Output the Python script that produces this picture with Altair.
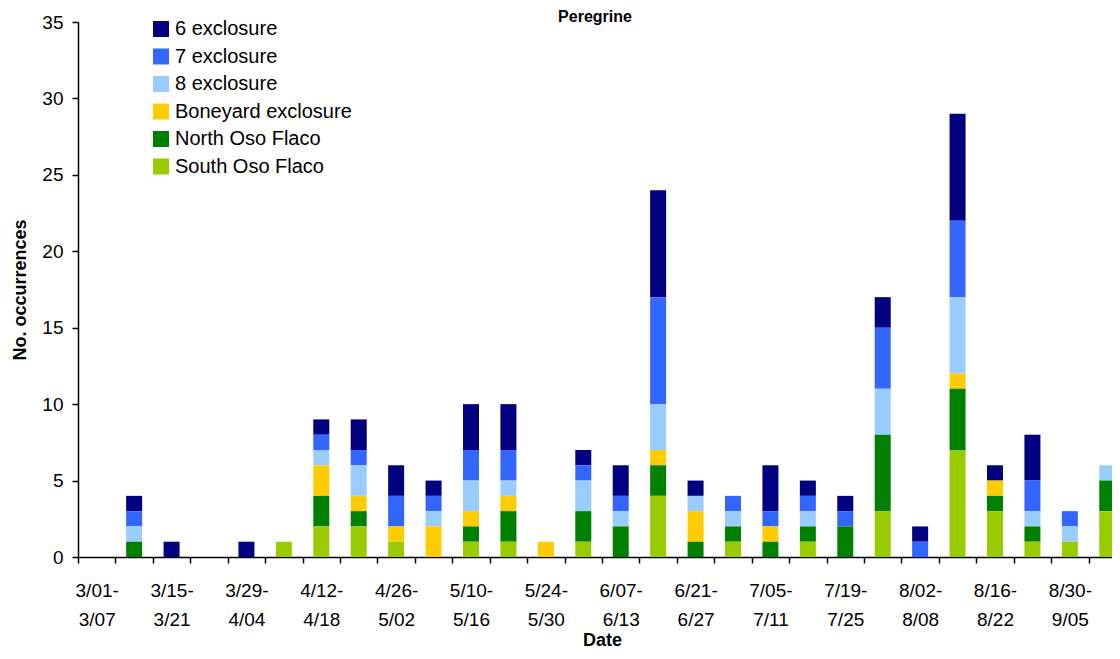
import altair as alt
import pandas as pd

weeks = ["3/01-3/07", "3/08-3/14", "3/15-3/21", "3/22-3/28", "3/29-4/04", "4/05-4/11",
         "4/12-4/18", "4/19-4/25", "4/26-5/02", "5/03-5/09", "5/10-5/16", "5/17-5/23",
         "5/24-5/30", "5/31-6/06", "6/07-6/13", "6/14-6/20", "6/21-6/27", "6/28-7/04",
         "7/05-7/11", "7/12-7/18", "7/19-7/25", "7/26-8/01", "8/02-8/08", "8/09-8/15",
         "8/16-8/22", "8/23-8/29", "8/30-9/05", "9/06-9/12"]
shown_labels = weeks[0:27:2]

six_excl = [0, 1, 1, 0, 1, 0, 1, 2, 2, 1, 3, 3, 0, 1, 2, 7, 1, 0, 3, 1, 1, 2, 1, 7, 1, 3, 0, 0]
seven_excl = [0, 1, 0, 0, 0, 0, 1, 1, 2, 1, 2, 2, 0, 1, 1, 7, 0, 1, 1, 1, 1, 4, 1, 5, 0, 2, 1, 0]
eight_excl = [0, 1, 0, 0, 0, 0, 1, 2, 0, 1, 2, 1, 0, 2, 1, 3, 1, 1, 0, 1, 0, 3, 0, 5, 0, 1, 1, 1]
boneyard = [0, 0, 0, 0, 0, 0, 2, 1, 1, 2, 1, 1, 1, 0, 0, 1, 2, 0, 1, 0, 0, 0, 0, 1, 1, 0, 0, 0]
north_oso = [0, 1, 0, 0, 0, 0, 2, 1, 0, 0, 1, 2, 0, 2, 2, 2, 1, 1, 1, 1, 2, 5, 0, 4, 1, 1, 0, 2]
south_oso = [0, 0, 0, 0, 0, 1, 2, 2, 1, 0, 1, 1, 0, 1, 0, 4, 0, 1, 0, 1, 0, 3, 0, 7, 3, 1, 1, 3]

series_names = ["6 exclosure", "7 exclosure", "8 exclosure", "Boneyard exclosure",
                "North Oso Flaco", "South Oso Flaco"]
series_values = [six_excl, seven_excl, eight_excl, boneyard, north_oso, south_oso]
series_colors = ["#000080", "#3366FF", "#99CCFF", "#FFCC00", "#008000", "#99CC00"]

rows = []
for si, (name, vals) in enumerate(zip(series_names, series_values)):
    for w, v in zip(weeks, vals):
        if v > 0:
            rows.append({"week": w, "site": name, "count": v, "ord": len(series_names) - si})
df = pd.DataFrame(rows)

label_expr = ("indexof(" + str(shown_labels).replace("'", '"')
              + ", datum.value) >= 0 ? split(replace(datum.value, '-', '- '), ' ') : ''")

FONT = "Liberation Sans"

bars = alt.Chart(df).mark_bar(size=16).encode(
    x=alt.X("week:N", sort=weeks,
            scale=alt.Scale(domain=weeks, paddingInner=0, paddingOuter=0, range=[0, 1048]),
            axis=alt.Axis(title="Date", labelExpr=label_expr, labelAngle=0, tickBand="extent",
                          labelFontSize=19, labelFont=FONT, labelColor="black",
                          labelLineHeight=29, labelPadding=18, tickSize=6, tickColor="black",
                          domainColor="black", domainWidth=1.5, tickWidth=1.5,
                          titleFontSize=18, titleFont=FONT, titleFontWeight="bold",
                          titleColor="black", titlePadding=2, labelOverlap=False)),
    y=alt.Y("count:Q", stack="zero", scale=alt.Scale(domain=[0, 35], nice=False),
            axis=alt.Axis(title="No. occurrences", values=[0, 5, 10, 15, 20, 25, 30, 35],
                          grid=False, labelFontSize=19, labelFont=FONT,
                          labelColor="black", labelPadding=9, tickSize=6, tickColor="black",
                          domainColor="black", domainWidth=1.5, tickWidth=1.5,
                          titleFontSize=18, titleFont=FONT, titleFontWeight="bold",
                          titleColor="black", titlePadding=12)),
    color=alt.Color("site:N", scale=alt.Scale(domain=series_names, range=series_colors),
                    legend=alt.Legend(title=None, orient="none", legendX=73, legendY=-3,
                                      padding=0, symbolType="square", symbolSize=256,
                                      symbolStrokeWidth=0, labelFontSize=20, labelFont=FONT,
                                      labelColor="black", rowPadding=7.5, labelOffset=4,
                                      labelLimit=400)),
    order=alt.Order("ord:Q", sort="ascending"),
)

chart = bars.properties(
    width=1034, height=535,
    title=alt.TitleParams("Peregrine", fontSize=16, font=FONT, fontWeight="bold",
                          color="black", anchor="middle", offset=-12),
    autosize=alt.AutoSizeParams(type="none"),
    padding={"left": 70, "top": 14, "right": 0, "bottom": 100},
).configure_view(stroke=None)

chart.save("out.html", embed_options={"renderer": "svg", "actions": False})
